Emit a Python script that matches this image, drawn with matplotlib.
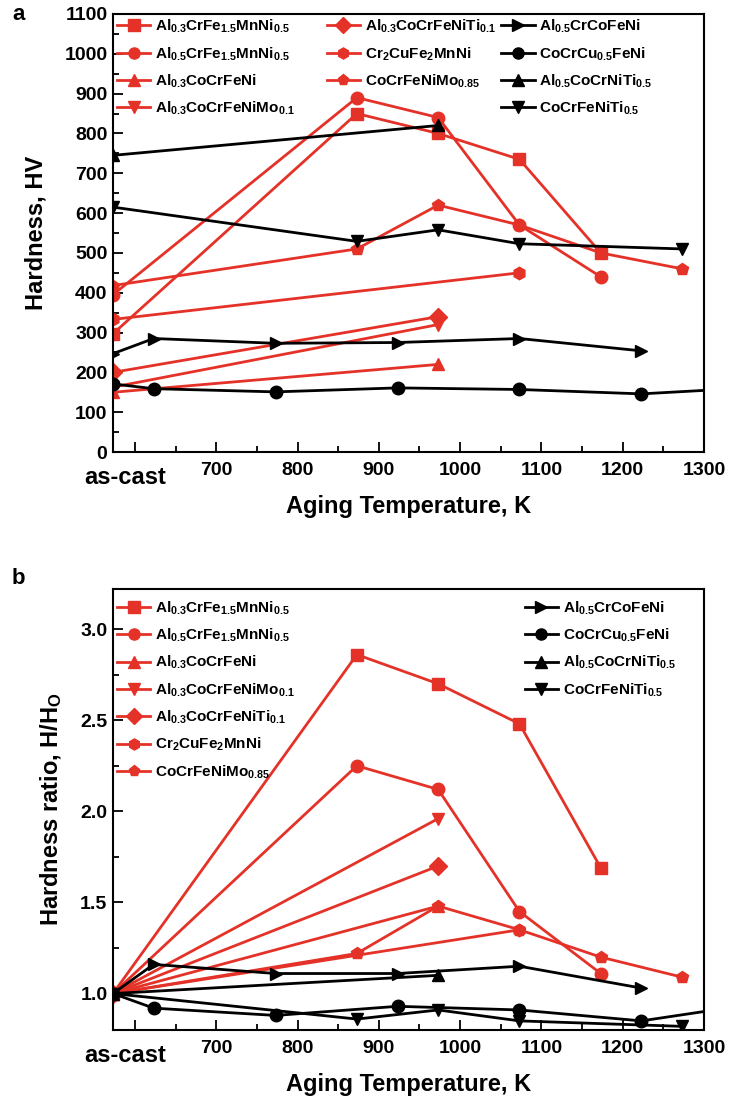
import matplotlib
matplotlib.use("Agg")
import matplotlib.pyplot as plt
from matplotlib.ticker import MultipleLocator, FixedLocator
from matplotlib.lines import Line2D
from matplotlib import font_manager

avail = {f.name for f in font_manager.fontManager.ttflist}
fam = [f for f in ['Liberation Sans Narrow', 'Liberation Sans', 'DejaVu Sans'] if f in avail]
plt.rcParams['font.family'] = fam
plt.rcParams['font.weight'] = 'bold'
plt.rcParams['mathtext.fontset'] = 'custom'
plt.rcParams['mathtext.rm'] = fam[0] + ':bold'
plt.rcParams['mathtext.bf'] = fam[0] + ':bold'
plt.rcParams['mathtext.it'] = fam[0] + ':bold'
plt.rcParams['mathtext.default'] = 'rm'

RED = '#e53228'
BLK = '#000000'

# ---------------- data ----------------
names = [r'Al$_{0.3}$CrFe$_{1.5}$MnNi$_{0.5}$',
         r'Al$_{0.5}$CrFe$_{1.5}$MnNi$_{0.5}$',
         r'Al$_{0.3}$CoCrFeNi',
         r'Al$_{0.3}$CoCrFeNiMo$_{0.1}$',
         r'Al$_{0.3}$CoCrFeNiTi$_{0.1}$',
         r'Cr$_2$CuFe$_2$MnNi',
         r'CoCrFeNiMo$_{0.85}$',
         r'Al$_{0.5}$CrCoFeNi',
         r'CoCrCu$_{0.5}$FeNi',
         r'Al$_{0.5}$CoCrNiTi$_{0.5}$',
         r'CoCrFeNiTi$_{0.5}$']
markers = ['s', 'o', '^', 'v', 'D', 'h', 'p', '>', 'o', '^', 'v']
colors = [RED] * 7 + [BLK] * 4

temps = [
    [573, 873, 973, 1073, 1173],
    [573, 873, 973, 1073, 1173],
    [573, 973],
    [573, 973],
    [573, 973],
    [573, 1073],
    [573, 873, 973, 1073, 1173, 1273],
    [573, 623, 773, 923, 1073, 1223],
    [573, 623, 773, 923, 1073, 1223, 1373],
    [573, 973],
    [573, 873, 973, 1073, 1273],
]
hardness = [
    [297, 850, 800, 735, 500],
    [395, 890, 840, 570, 440],
    [150, 220],
    [163, 320],
    [200, 340],
    [333, 450],
    [418, 510, 620, 570, 500, 460],
    [247, 285, 273, 275, 285, 254],
    [171, 159, 151, 161, 157, 146, 163],
    [745, 820],
    [615, 529, 558, 523, 510],
]
ratio = [
    [1.0, 2.86, 2.70, 2.48, 1.69],
    [1.0, 2.25, 2.12, 1.45, 1.11],
    [1.0, 1.48],
    [1.0, 1.96],
    [1.0, 1.70],
    [1.0, 1.35],
    [1.0, 1.22, 1.48, 1.35, 1.20, 1.09],
    [1.0, 1.16, 1.11, 1.11, 1.15, 1.03],
    [1.0, 0.92, 0.88, 0.93, 0.91, 0.85, 0.95],
    [1.0, 1.10],
    [1.0, 0.86, 0.91, 0.85, 0.82],
]
xticks = [600, 700, 800, 900, 1000, 1100, 1200, 1300]
xticklabels = ['', '700', '800', '900', '1000', '1100', '1200', '1300']

W, H = 729, 1110
fig = plt.figure(figsize=(W / 100, H / 100), dpi=100)

def ax_rect(l, t, r, b):
    return [l / W, 1 - b / H, (r - l) / W, (b - t) / H]

ax1 = fig.add_axes(ax_rect(113, 14, 704, 452))
ax2 = fig.add_axes(ax_rect(113, 589, 704, 1030))

def style(ax):
    ax.set_xlim(573, 1300)
    ax.xaxis.set_major_locator(FixedLocator(xticks))
    ax.set_xticklabels(xticklabels)
    ax.xaxis.set_minor_locator(MultipleLocator(50))
    ax.tick_params(which='both', direction='in', top=False, right=False, width=1.3)
    ax.tick_params(which='major', length=7, labelsize=14)
    ax.tick_params(axis='x', which='major', pad=7)
    ax.tick_params(axis='y', which='major', pad=4)
    ax.tick_params(which='minor', length=4)
    for s in ax.spines.values():
        s.set_linewidth(1.5)
    ax.set_xlabel('Aging Temperature, K', fontsize=17, fontweight='bold', labelpad=12)
    ax.text(0.02, -0.058, 'as-cast', transform=ax.transAxes, ha='center', va='center',
            fontsize=17, fontweight='bold')

handles = []
for i in range(11):
    ax1.plot(temps[i], hardness[i], color=colors[i], marker=markers[i], lw=2, ms=9,
             mec=colors[i], mfc=colors[i])
    ax2.plot(temps[i], ratio[i], color=colors[i], marker=markers[i], lw=2, ms=9,
             mec=colors[i], mfc=colors[i])
    handles.append(Line2D([], [], color=colors[i], marker=markers[i], lw=2, ms=8))

style(ax1)
ax1.set_ylim(0, 1100)
ax1.yaxis.set_major_locator(MultipleLocator(100))
ax1.yaxis.set_minor_locator(MultipleLocator(50))
ax1.set_ylabel('Hardness, HV', fontsize=17, fontweight='bold', labelpad=12)

style(ax2)
ax2.set_ylim(0.8, 3.22)
ax2.yaxis.set_minor_locator(MultipleLocator(0.25))
ax2.set_yticks([1.0, 1.5, 2.0, 2.5, 3.0])
ax2.set_yticklabels(['1.0', '1.5', '2.0', '2.5', '3.0'])
ax2.set_ylabel(r'Hardness ratio, H/H$_\mathrm{O}$', fontsize=17, fontweight='bold', labelpad=12)

legkw = dict(frameon=False, fontsize=11, handlelength=2.2, handletextpad=0.3,
             labelspacing=0.65, borderaxespad=0.0, borderpad=0.25)
l1 = ax1.legend(handles[0:4], names[0:4], loc='upper left', bbox_to_anchor=(0.0, 1.0), **legkw)
ax1.add_artist(l1)
l2 = ax1.legend(handles[4:7], names[4:7], loc='upper left', bbox_to_anchor=(0.355, 1.0), **legkw)
ax1.add_artist(l2)
ax1.legend(handles[7:11], names[7:11], loc='upper left', bbox_to_anchor=(0.65, 1.0), **legkw)

l4 = ax2.legend(handles[0:7], names[0:7], loc='upper left', bbox_to_anchor=(0.0, 0.985), **legkw)
ax2.add_artist(l4)
ax2.legend(handles[7:11], names[7:11], loc='upper left', bbox_to_anchor=(0.69, 0.985), **legkw)

fig.text(12 / W, 1 - 14 / H, 'a', fontsize=16, fontweight='bold', ha='left', va='center')
fig.text(12 / W, 1 - 578 / H, 'b', fontsize=16, fontweight='bold', ha='left', va='center')

fig.savefig('out.png', dpi=100)
